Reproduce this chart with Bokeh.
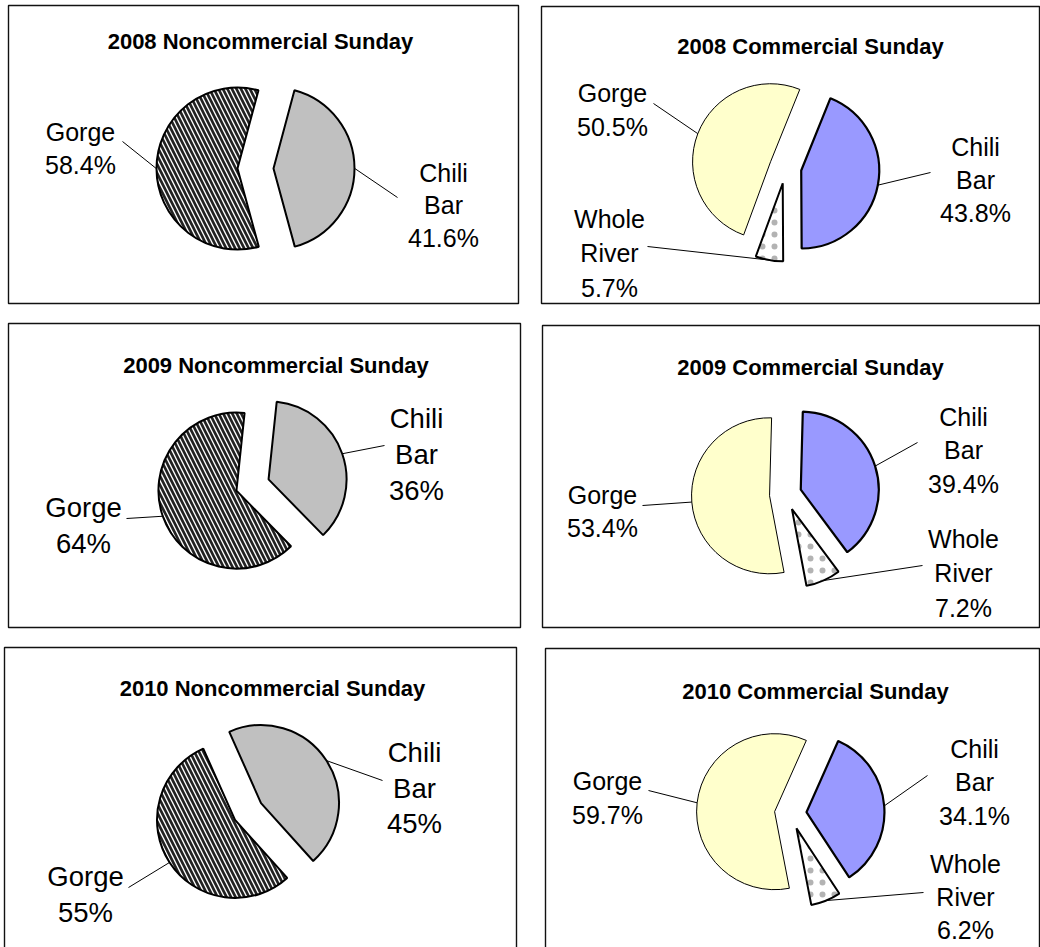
import math

from bokeh.plotting import figure
from bokeh.models import Range1d
from bokeh.core.properties import value
from bokeh.embed import file_html
from bokeh.resources import INLINE

W, H = 1040, 947

# ---- data -------------------------------------------------------------
titles = [
    "2008 Noncommercial Sunday", "2008 Commercial Sunday",
    "2009 Noncommercial Sunday", "2009 Commercial Sunday",
    "2010 Noncommercial Sunday", "2010 Commercial Sunday",
]
segments = ["Chili Bar", "Whole River", "Gorge"]
chili_bar = [41.6, 43.8, 36, 39.4, 45, 34.1]
whole_river = [0, 5.7, 0, 7.2, 0, 6.2]
gorge = [58.4, 50.5, 64, 53.4, 55, 59.7]
commercial = [False, True, False, True, False, True]

# ---- layout (page pixels, y pointing down) ----------------------------
frames = [(8, 5, 518, 303), (541, 6, 1039, 303),
          (8, 323, 520, 627), (542, 325, 1039, 627),
          (4, 647, 516, 960), (545, 648, 1039, 960)]
pie_center = [(255, 168), (785, 167), (252, 484.5), (785, 494), (247.5, 811), (790, 813)]
pie_radius = [81, 78, 78, 78, 78, 78]
explode = [18, 16, 17, 16, 15.5, 16]
first_angle = [15, 22, 6, 1.5, -24, 24]   # degrees, clockwise from 12 o'clock
title_pos = [(260, 41), (810, 46), (275.5, 365), (810, 367), (272, 688), (815, 691)]
label_size = [25, 25, 27.5, 25, 27.5, 25]
# label centre x, first baseline, line step, leader end x, leader end y
label_pos = [
    {"Chili Bar": (443, 172, 32.5, 397, 197), "Gorge": (80, 131, 33, 122, 141)},
    {"Chili Bar": (975, 146, 33, 930, 172), "Whole River": (609, 218, 34.5, 647, 246),
     "Gorge": (612, 92, 34, 653, 103)},
    {"Chili Bar": (416, 418, 36, 384, 445), "Gorge": (83, 507, 36, 126, 518)},
    {"Chili Bar": (963, 416, 33.5, 917, 442), "Whole River": (963, 538, 34.5, 922, 565),
     "Gorge": (602, 494, 33, 642, 505)},
    {"Chili Bar": (414, 752, 35.5, 382, 780), "Gorge": (85, 876, 36, 128, 887)},
    {"Chili Bar": (974, 748, 33.5, 927, 775), "Whole River": (965, 863, 33, 923, 892),
     "Gorge": (607, 780, 34, 648, 790)},
]

STYLE_NONCOM = {
    "Chili Bar": dict(fill_color="#C0C0C0", line_width=2),
    "Gorge": dict(fill_color="white", hatch_pattern="left_diagonal_line",
                  hatch_color="#222222", hatch_scale=9, hatch_weight=2.7, line_width=2),
}
STYLE_COM = {
    "Chili Bar": dict(fill_color="#9999FF", line_width=2.2),
    "Whole River": dict(fill_color="white", hatch_pattern="dot", hatch_color="#9a9a9a",
                        hatch_alpha=0.75, hatch_scale=12, hatch_weight=0.5, line_width=2),
    "Gorge": dict(fill_color="#FFFFCC", line_width=1),
}

FONT = value("Liberation Sans")


def Y(py):
    return H - py


p = figure(width=W, height=H, x_range=Range1d(0, W), y_range=Range1d(0, H),
           x_axis_type=None, y_axis_type=None, toolbar_location=None,
           output_backend="svg", min_border=0, outline_line_color=None,
           background_fill_color="white", border_fill_color="white")
p.grid.visible = False

for i, title in enumerate(titles):
    # panel frame
    x0, y0, x1, y1 = frames[i]
    p.quad(left=x0, right=x1, top=Y(y0), bottom=Y(y1), fill_color=None,
           line_color="#111111", line_width=1.4)

    tx, ty = title_pos[i]
    p.text(x=[tx], y=[Y(ty)], text=[title], text_font=FONT, text_font_style="bold",
           text_font_size=value("22px"), text_align="center",
           text_baseline="alphabetic", text_color="black")

    vals = {"Chili Bar": chili_bar[i], "Whole River": whole_river[i], "Gorge": gorge[i]}
    total = sum(vals.values())
    cx, cy = pie_center[i]
    r = pie_radius[i]
    styles = STYLE_COM if commercial[i] else STYLE_NONCOM
    theta = first_angle[i]
    fs = label_size[i]
    for seg in segments:
        v = vals[seg]
        if v <= 0:
            continue
        sweep = 360.0 * v / total
        t1, t2 = theta, theta + sweep
        theta = t2
        # convert clockwise-from-north into counter-clockwise-from-east
        a_start = math.radians(90 - t2)
        a_end = math.radians(90 - t1)
        mid = (a_start + a_end) / 2
        ox = cx + explode[i] * math.cos(mid)
        oy = Y(cy) + explode[i] * math.sin(mid)
        p.wedge(x=[ox], y=[oy], radius=r, start_angle=a_start, end_angle=a_end,
                direction="anticlock", line_color="black", **styles[seg])

        lx, lb, step, ex, ey = label_pos[i][seg]
        # leader from the rim of the slice towards its label
        rim_x = ox + r * math.cos(mid)
        rim_y = oy + r * math.sin(mid)
        p.segment(x0=[rim_x], y0=[rim_y], x1=[ex], y1=[Y(ey)],
                  line_color="black", line_width=1)

        lines = seg.split(" ") + [f"{v:g}%"]
        p.text(x=[lx] * len(lines), y=[Y(lb + k * step) for k in range(len(lines))],
               text=lines, text_font=FONT, text_font_size=value(f"{fs}px"),
               text_align="center", text_baseline="alphabetic", text_color="black")

open("out.html", "w").write(file_html(p, INLINE))
